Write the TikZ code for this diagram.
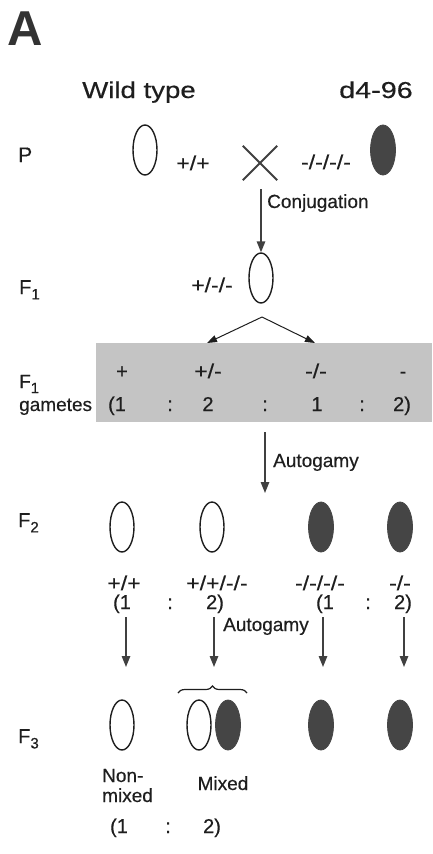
\documentclass[tikz,border=0pt]{standalone}
\usepackage{fontspec}
\setmainfont{Liberation Sans}
\newfontfamily\thk{Liberation Sans}[FakeBold=0.45]
\usepackage{graphicx}
\usetikzlibrary{shapes.geometric,arrows.meta,decorations.pathreplacing}
\definecolor{cellfill}{HTML}{454545}
\definecolor{boxgrey}{HTML}{C4C4C4}
\definecolor{ink}{HTML}{1E1E1E}
\begin{document}
\begin{tikzpicture}[x=1pt,y=-1pt,
  lbl/.style={font=\thk\fontsize{20}{22}\selectfont, inner sep=0pt, text=ink, anchor=base},
  sml/.style={font=\thk\fontsize{19}{21}\selectfont, inner sep=0pt, text=ink, anchor=base},
  big/.style={font=\thk\fontsize{23}{25}\selectfont, inner sep=0pt, text=ink, anchor=base},
  wt/.style={ellipse, draw=ink, line width=1.4pt, minimum width=24pt, minimum height=50pt, inner sep=0pt},
  mut/.style={ellipse, draw=cellfill, fill=cellfill, line width=0.8pt, minimum width=25pt, minimum height=50pt, inner sep=0pt},
  arr/.style={draw=ink!85, line width=1.4pt, -{Triangle[length=11pt,width=8.5pt]}},
  thinarr/.style={draw=ink, line width=1pt, -{Triangle[length=10pt,width=7pt]}},
  gbox/.style={rectangle, fill=boxgrey, draw=none, minimum width=336pt, minimum height=79pt, inner sep=0pt}
]
\useasboundingbox (0,0) rectangle (432,854);
\newcommand{\Fsub}[1]{F\raisebox{-0.27em}{\fontsize{15}{15}\selectfont #1}}

% title
\node[font=\fontsize{49}{50}\selectfont\bfseries, text=black!80, inner sep=0pt, anchor=base west] (ttl) at (7,45) {A};

% headers
\node[big] (hwt) at (139,98) {\scalebox{1.2}[1]{Wild type}};
\node[big] (hmut) at (376,98) {\scalebox{1.25}[1]{d4-96}};

% P row
\node[lbl, font=\thk\fontsize{21}{22}\selectfont, anchor=base west] (lp) at (18,162) {P};
\node[wt] (p1) at (145,150) {};
\node[lbl] (gp1) at (193,170) {\scalebox{1.15}[1]{+/+}};
\node[inner sep=0pt, minimum size=34pt] (cross) at (260,163) {};
\draw[ink!85, line width=2pt] (cross.north west) -- (cross.south east);
\draw[ink!85, line width=2pt] (cross.south west) -- (cross.north east);
\node[lbl] (gp2) at (326,169) {\scalebox{1.15}[1]{-/-/-/-}};
\node[mut] (p2) at (383,150) {};

% conjugation
\coordinate (c0) at (261,189);
\node[wt] (f1) at (261,278) {};
\draw[arr] (c0) -- (f1.north);
\node[sml, anchor=base west] (conj) at (267,208) {Conjugation};

% F1
\node[lbl, anchor=base west] (lf1) at (19,294) {\Fsub{1}};
\node[lbl] (gf1) at (212,292) {\scalebox{1.15}[1]{+/-/-}};

% gametes box
\node[gbox] (gam) at (264,382.5) {};
\coordinate (apex) at (262,317);
\coordinate (tipl) at (207,343);
\coordinate (tipr) at (315,343);
\draw[thinarr] (apex) -- (tipl);
\draw[thinarr] (apex) -- (tipr);

\node[sml, anchor=base west] (lf1g) at (19,388) {\Fsub{1}};
\node[sml, anchor=base west] (lgam) at (19,411) {gametes};
\node[lbl] (g1) at (122,378) {+};
\node[lbl] (g2) at (208,378) {\scalebox{1.15}[1]{+/-}};
\node[lbl] (g3) at (316,378) {\scalebox{1.15}[1]{-/-}};
\node[lbl] (g4) at (403,378) {-};
\node[lbl] (r1) at (117,411) {(1};
\node[lbl] (r2) at (170,411) {:};
\node[lbl] (r3) at (208,411) {2};
\node[lbl] (r4) at (265,411) {:};
\node[lbl] (r5) at (317,411) {1};
\node[lbl] (r6) at (362,411) {:};
\node[lbl] (r7) at (402,411) {2)};

% autogamy 1
\coordinate (a0) at (265,432);
\coordinate (a1) at (265,493);
\draw[arr] (a0) -- (a1);
\node[sml, anchor=base west] (auto1) at (273,467) {Autogamy};

% F2
\node[lbl, anchor=base west] (lf2) at (18,527) {\Fsub{2}};
\node[wt] (e1) at (122,527) {};
\node[wt] (e2) at (212,527) {};
\node[mut] (e3) at (321,527) {};
\node[mut] (e4) at (400,527) {};
\node[lbl] (k1) at (124,590) {\scalebox{1.15}[1]{+/+}};
\node[lbl] (k2) at (217,590) {\scalebox{1.15}[1]{+/+/-/-}};
\node[lbl] (k3) at (320,590) {\scalebox{1.15}[1]{-/-/-/-}};
\node[lbl] (k4) at (400,590) {\scalebox{1.15}[1]{-/-}};
\node[lbl] (q1) at (122,609) {(1};
\node[lbl] (q2) at (170,609) {:};
\node[lbl] (q3) at (215,609) {2)};
\node[lbl] (q4) at (325,609) {(1};
\node[lbl] (q5) at (368,609) {:};
\node[lbl] (q6) at (403,609) {2)};

% arrows F2 -> F3
\coordinate (s1) at (126,617); \coordinate (t1) at (126,667);
\coordinate (s2) at (214,617); \coordinate (t2) at (214,667);
\coordinate (s3) at (323,617); \coordinate (t3) at (323,667);
\coordinate (s4) at (404,617); \coordinate (t4) at (404,667);
\draw[arr] (s1) -- (t1);
\draw[arr] (s2) -- (t2);
\draw[arr] (s3) -- (t3);
\draw[arr] (s4) -- (t4);
\node[sml, anchor=base west] (auto2) at (223,631) {Autogamy};

% brace
\coordinate (bl) at (178,693);
\coordinate (br) at (247,693);
\draw[ink, line width=1.2pt, decorate, decoration={brace, amplitude=7pt}] (bl) -- (br);

% F3
\node[lbl, anchor=base west] (lf3) at (18,743) {\Fsub{3}};
\node[wt] (h1) at (122,725) {};
\node[wt] (h2) at (199,725) {};
\node[mut] (h3) at (228,725) {};
\node[mut] (h4) at (321,725) {};
\node[mut] (h5) at (400,725) {};

\node[sml, anchor=base west] (nm1) at (102,782) {Non-};
\node[sml, anchor=base west] (nm2) at (102,802) {mixed};
\node[sml] (mx) at (223,790) {Mixed};
\node[lbl] (b1) at (119,833) {(1};
\node[lbl] (b2) at (168,833) {:};
\node[lbl] (b3) at (212,833) {2)};
\end{tikzpicture}
\end{document}
